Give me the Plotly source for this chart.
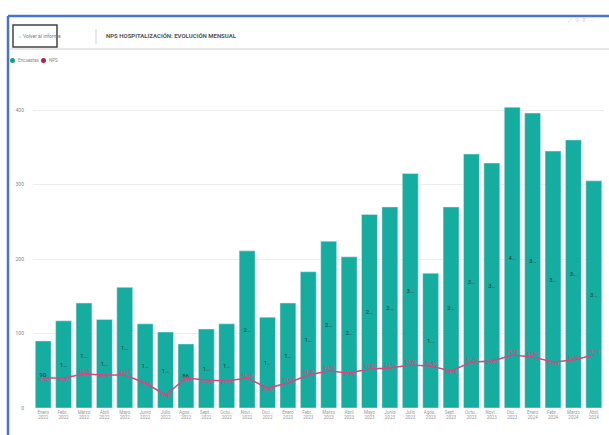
import plotly.graph_objects as go

months = ["Enero", "Febr...", "Marzo", "Abril", "Mayo", "Junio", "Julio", "Agos...", "Sept...", "Octu...", "Novi...", "Dici..."]
years = ["2022"] * 12 + ["2023"] * 12 + ["2024"] * 4
labels = [f"{m}<br>{y}" for m, y in zip((months * 3)[:28], years)]
categories = [f"{m} {y}" for m, y in zip((months * 3)[:28], years)]

encuestas = [90, 117, 141, 119, 162, 113, 102, 86, 106, 113, 211, 122,
             141, 183, 224, 203, 260, 270, 315, 181, 270, 341, 329, 404,
             396, 345, 360, 305]
nps = [40.3, 40.3, 45.6, 44.3, 44.3, 33.6, 17.4, 40.3, 37.6, 36.2, 40.3, 26.8,
       33.6, 44.3, 49.7, 47.0, 52.3, 53.7, 57.7, 56.4, 49.7, 61.7, 63.0, 71.1,
       68.5, 61.7, 64.4, 71.1]
nps_pos = ["bottom center", "bottom center", "top center", "bottom center", "top center",
           "bottom center", "bottom center", "bottom center", "bottom center", "bottom center",
           "top center", "bottom center", "top center", "top center", "top center",
           "bottom center", "top center", "top center", "top center", "top center",
           "bottom center", "top center", "bottom center", "top center", "top center",
           "bottom center", "top center", "top center"]

bar_text = [str(v) if v < 100 else str(v)[0] + "…" for v in encuestas]
nps_text = [f"{v:.2f}".replace(".", ",") for v in nps]

TEAL = "#14ADA0"
PINK = "#D9457E"
YMAX = 423

fig = go.Figure()
fig.add_trace(go.Bar(
    x=categories, y=encuestas, name="Encuestas", marker_color=TEAL,
    text=bar_text, textposition="inside", insidetextanchor="middle",
    textfont=dict(size=6, color="#333333", family="Roboto"),
    textangle=0, cliponaxis=False,
))
fig.add_trace(go.Scatter(
    x=categories, y=nps, name="NPS", yaxis="y2", mode="lines+text",
    line=dict(color=PINK, width=1.6), text=nps_text, textposition=nps_pos,
    textfont=dict(size=4.5, color=PINK, family="Roboto"), cliponaxis=False,
))

# pixel -> paper helpers (plot area x 33..604, y 93..408)
def px(x):
    return (x - 33) / 571.0

def py(y):
    return (408 - y) / 315.0

shapes = [
    dict(type="line", xref="paper", yref="paper", x0=px(8), x1=px(609), y0=py(16), y1=py(16),
         line=dict(color="#4A72D0", width=2.5)),
    dict(type="line", xref="paper", yref="paper", x0=px(8), x1=px(8), y0=py(16), y1=py(435),
         line=dict(color="#4A72D0", width=2.5)),
    dict(type="line", xref="paper", yref="paper", x0=px(10), x1=px(609), y0=py(49), y1=py(49),
         line=dict(color="#D0D0D0", width=1)),
    dict(type="rect", xref="paper", yref="paper", x0=px(13), x1=px(57), y0=py(47), y1=py(25),
         line=dict(color="#444444", width=1.5), fillcolor="white"),
    dict(type="line", xref="paper", yref="paper", x0=px(96), x1=px(96), y0=py(29), y1=py(44),
         line=dict(color="#D0D0D0", width=1)),
    dict(type="circle", xref="paper", yref="paper", x0=px(10), x1=px(15), y0=py(63), y1=py(58),
         fillcolor="#1E9E78", line=dict(width=0)),
    dict(type="circle", xref="paper", yref="paper", x0=px(41), x1=px(46), y0=py(63), y1=py(58),
         fillcolor="#B0224E", line=dict(width=0)),
]

annotations = [
    dict(x=px(17), y=py(36), xref="paper", yref="paper", text="‹  Volver al informe",
         showarrow=False, xanchor="left", yanchor="middle",
         font=dict(size=5, color="#777777", family="Roboto")),
    dict(x=px(104), y=py(36), xref="paper", yref="paper", text="<b>NPS HOSPITALIZACIÓN: EVOLUCIÓN MENSUAL</b>",
         showarrow=False, xanchor="left", yanchor="middle",
         font=dict(size=6, color="#555555", family="Roboto")),
    dict(x=px(16), y=py(60.5), xref="paper", yref="paper", text="Encuestas",
         showarrow=False, xanchor="left", yanchor="middle",
         font=dict(size=4.5, color="#888888", family="Roboto")),
    dict(x=px(47), y=py(60.5), xref="paper", yref="paper", text="NPS",
         showarrow=False, xanchor="left", yanchor="middle",
         font=dict(size=4.5, color="#888888", family="Roboto")),
    dict(x=px(596), y=py(20), xref="paper", yref="paper", text="⤢  ⚲  ⊽  ···",
         showarrow=False, xanchor="right", yanchor="middle",
         font=dict(size=5, color="#C8C8C8", family="DejaVu Sans")),
]

fig.update_layout(
    width=609, height=435,
    margin=dict(l=33, r=5, t=93, b=27),
    paper_bgcolor="white", plot_bgcolor="white",
    showlegend=False, bargap=0.22,
    shapes=shapes, annotations=annotations,
    xaxis=dict(tickmode="array", tickvals=categories, ticktext=labels,
               range=[-0.5, len(categories) - 0.5], autorange=False,
               tickfont=dict(size=4.5, color="#999999", family="Roboto"),
               showgrid=False, showline=False, ticks=""),
    yaxis=dict(range=[0, YMAX], tickvals=[0, 100, 200, 300, 400],
               tickfont=dict(size=5, color="#888888", family="Roboto"),
               gridcolor="#EDEDED", gridwidth=1, zeroline=False, showline=False, ticks="",
               ticklabelstandoff=8),
    yaxis2=dict(range=[0, YMAX], overlaying="y", side="right", visible=False),
    font=dict(family="Roboto"),
)

fig.write_html("out.html")
